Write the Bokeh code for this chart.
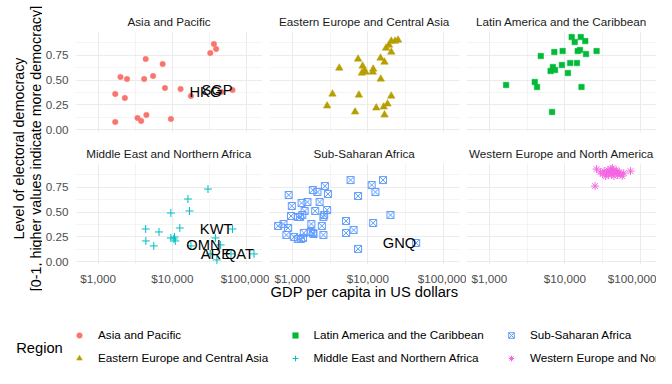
import math
from bokeh.plotting import figure
from bokeh.layouts import row, column
from bokeh.models import (Range1d, FixedTicker, NumeralTickFormatter, Label,
                          Legend, LegendItem, ColumnDataSource)
from bokeh.core.properties import value
from bokeh.embed import file_html
from bokeh.resources import INLINE

FONT = "Liberation Sans"

# ---------------- data ----------------
regions = ["Asia and Pacific", "Eastern Europe and Central Asia",
           "Latin America and the Caribbean", "Middle East and Northern Africa",
           "Sub-Saharan Africa", "Western Europe and North America"]

asia_gdp = [1700, 2000, 2450, 2290, 1700, 4370, 4170, 5500, 7400, 7950, 3390, 3800,
            4470, 9550, 12900, 17800, 32400, 36300, 38900, 45700, 64600]
asia_dem = [0.36, 0.53, 0.51, 0.32, 0.08, 0.71, 0.51, 0.54, 0.66, 0.42, 0.12, 0.09,
            0.15, 0.11, 0.41, 0.34, 0.77, 0.86, 0.81, 0.38, 0.40]
asia_code = [""] * 19 + ["HKG", "SGP"]

ee_gdp = [4170, 3390, 2880, 7400, 8510, 8910, 9330, 8320, 11750, 11600, 7590, 6760,
          14800, 14700, 16600, 17400, 19050, 20400, 22900, 25100, 20400, 20400,
          12900, 16200, 18200, 16600]
ee_dem = [0.62, 0.36, 0.24, 0.71, 0.64, 0.59, 0.58, 0.57, 0.61, 0.58, 0.35, 0.18,
          0.51, 0.72, 0.68, 0.82, 0.85, 0.89, 0.89, 0.90, 0.78, 0.34,
          0.22, 0.23, 0.26, 0.15]
ee_code = [""] * 26

la_gdp = [1660, 3980, 4270, 4790, 6760, 6460, 6920, 7410, 7240, 9330, 9120, 10960,
          11750, 14450, 12300, 13490, 16220, 18620, 14790, 15850, 19050, 26300, 16600]
la_dem = [0.45, 0.48, 0.43, 0.74, 0.18, 0.59, 0.63, 0.60, 0.78, 0.79, 0.65, 0.57,
          0.67, 0.67, 0.93, 0.88, 0.93, 0.89, 0.79, 0.80, 0.76, 0.79, 0.43]
la_code = [""] * 23

me_gdp = [4370, 6610, 4400, 5620, 9550, 16220, 17000, 30200, 12600, 9550, 10700,
          10960, 10470, 17800, 38000, 32400, 39800, 64600, 44700, 61700, 125900]
me_dem = [0.33, 0.30, 0.21, 0.16, 0.49, 0.63, 0.51, 0.73, 0.34, 0.24, 0.25,
          0.21, 0.23, 0.16, 0.24, 0.08, 0.02, 0.33, 0.17, 0.08, 0.08]
me_code = [""] * 17 + ["KWT", "OMN", "ARE", "QAT"]

ssa_gdp = [5890, 15850, 11220, 12590, 2690, 1860, 2140, 2950, 890, 7410, 980, 1320,
           1580, 2290, 1450, 2000, 2880, 2630, 2570, 1260, 1175, 955, 1350, 19950,
           5130, 11750, 1780, 2450, 760, 870, 5130, 6460, 830, 1050, 1175, 1290,
           1380, 1410, 1740, 1860, 2570, 7410, 645, 1900, 43650]
ssa_dem = [0.82, 0.82, 0.77, 0.70, 0.76, 0.72, 0.70, 0.68, 0.67, 0.66, 0.56, 0.59,
           0.60, 0.60, 0.51, 0.51, 0.52, 0.47, 0.45, 0.45, 0.45, 0.46, 0.47, 0.47,
           0.41, 0.39, 0.38, 0.36, 0.38, 0.34, 0.29, 0.32, 0.27, 0.25, 0.23, 0.23,
           0.24, 0.29, 0.30, 0.29, 0.27, 0.13, 0.36, 0.28, 0.19]
ssa_code = [""] * 44 + ["GNQ"]

we_gdp = [26300, 25100, 74100, 29500, 31600, 33100, 35500, 37200, 38000, 39800,
          40700, 41700, 43700, 44700, 45700, 47900, 50100, 52500, 55000, 57500,
          60300, 34700, 42700, 49000]
we_dem = [0.93, 0.76, 0.91, 0.90, 0.88, 0.91, 0.89, 0.92, 0.87, 0.90,
          0.93, 0.88, 0.91, 0.86, 0.89, 0.92, 0.87, 0.90, 0.88, 0.86,
          0.89, 0.86, 0.94, 0.90]
we_code = [""] * 24

x_ticks = [1000, 10000, 100000]
x_minor = [10 ** 2.5, 10 ** 3.5, 10 ** 4.5, 10 ** 5.5]
y_ticks = [0, 0.25, 0.5, 0.75]
y_minor = [0.125, 0.375, 0.625, 0.875]

colors = ["#F8766D", "#B79F00", "#00BA38", "#00BFC4", "#619CFF", "#F564E3"]
markers = ["circle", "triangle", "square", "cross", "square_x", "asterisk"]
sizes = [5.5, 7.5, 5.5, 8, 7, 8]
filled = [True, True, True, False, False, False]

gdp_all = [asia_gdp, ee_gdp, la_gdp, me_gdp, ssa_gdp, we_gdp]
dem_all = [asia_dem, ee_dem, la_dem, me_dem, ssa_dem, we_dem]
code_all = [asia_code, ee_code, la_code, me_code, ssa_code, we_code]

# shared scales (facet_wrap with fixed scales, 5% expansion)
all_g = [math.log10(g) for arr in gdp_all for g in arr]
all_d = [d for arr in dem_all for d in arr]
lx0, lx1 = min(all_g), max(all_g)
ex = 0.05 * (lx1 - lx0)
y0, y1 = min(all_d), max(all_d)
ey = 0.05 * (y1 - y0)

FW, FH = 190, 101
GAP = 7
YT_W = 42
ROW1_BOTTOM = 8
GRID = "#EBEBEB"


def style_common(p):
    p.outline_line_color = None
    for ax in (p.xaxis, p.yaxis):
        ax.major_tick_line_color = None
        ax.minor_tick_line_color = None
        ax.major_tick_out = 0
        ax.major_tick_in = 0
        ax.minor_tick_out = 0
        ax.minor_tick_in = 0
        ax.axis_line_color = None
        ax.major_label_text_font = FONT
        ax.major_label_text_font_size = "11.7px"
        ax.major_label_text_color = "#4D4D4D"
    p.xaxis.ticker = FixedTicker(ticks=x_ticks, minor_ticks=x_minor)
    p.yaxis.ticker = FixedTicker(ticks=y_ticks, minor_ticks=y_minor)
    p.xaxis.formatter = NumeralTickFormatter(format="$0,0")
    p.yaxis.formatter = NumeralTickFormatter(format="0.00")
    p.xaxis.major_label_standoff = 7
    p.yaxis.major_label_standoff = 7
    for g in (p.xgrid, p.ygrid):
        g.grid_line_color = GRID
        g.grid_line_width = 1.07
        g.minor_grid_line_color = GRID
        g.minor_grid_line_width = 0.53
    p.title.align = "center"
    p.title.text_font = FONT
    p.title.text_font_size = "11.7px"
    p.title.text_font_style = "normal"
    p.title.text_color = "#1A1A1A"
    p.title.standoff = 8


panels = []
for i, name in enumerate(regions):
    c, r = i % 3, i // 3
    left = (72 - YT_W) if c == 0 else 0
    right = 0 if c == 2 else GAP
    top = 31 if r == 0 else 31 - ROW1_BOTTOM
    bottom = ROW1_BOTTOM if r == 0 else 44
    p = figure(width=left + FW + right, height=top + FH + bottom,
               x_axis_type="log", title=name,
               x_range=Range1d(10 ** (lx0 - ex), 10 ** (lx1 + ex)),
               y_range=Range1d(y0 - ey, y1 + ey),
               output_backend="svg", toolbar_location=None,
               min_border_left=left, min_border_right=right,
               min_border_top=top, min_border_bottom=bottom)
    style_common(p)
    if r == 0:
        p.xaxis.visible = False
    if c != 0:
        p.yaxis.visible = False
    if i == 4:
        p.xaxis.axis_label = "GDP per capita in US dollars"
        p.xaxis.axis_label_text_font = FONT
        p.xaxis.axis_label_text_font_size = "14.7px"
        p.xaxis.axis_label_text_font_style = "normal"
        p.xaxis.axis_label_text_color = "black"
        p.xaxis.axis_label_standoff = -4

    src = ColumnDataSource(dict(gdp=gdp_all[i], dem=dem_all[i], code=code_all[i]))
    p.scatter("gdp", "dem", source=src, marker=markers[i], size=sizes[i],
              line_color=colors[i],
              fill_color=colors[i] if filled[i] else None,
              line_width=0.5 if filled[i] else 1.0)
    lab_idx = [k for k, cd in enumerate(code_all[i]) if cd]
    if lab_idx:
        lsrc = ColumnDataSource(dict(
            gdp=[gdp_all[i][k] for k in lab_idx],
            dem=[dem_all[i][k] for k in lab_idx],
            code=[code_all[i][k] for k in lab_idx]))
        p.text("gdp", "dem", text="code", source=lsrc, text_align="right",
               text_baseline="middle", text_font=value(FONT),
               text_font_size=value("14.7px"), text_color="black")
    panels.append(p)

ROWS_H = 31 + FH + 31 + FH + 44

# y-axis title (spans both rows)
yt = figure(width=YT_W, height=ROWS_H, min_border=0, x_axis_type=None,
            y_axis_type=None, x_range=Range1d(0, 1), y_range=Range1d(0, 1),
            output_backend="svg", toolbar_location=None)
yt.outline_line_color = None
for xx, txt in [(18.5, "Level of electoral democracy"),
                (35.0, "[0-1, higher values indicate more democracy]")]:
    yt.add_layout(Label(x=xx, y=ROWS_H - 148, x_units="screen", y_units="screen",
                        angle=math.pi / 2, text=txt, text_align="center",
                        text_baseline="alphabetic", text_font=FONT,
                        text_font_size="14.3px", text_color="black"))

# legend
LEG_H = 368 - ROWS_H
lf = figure(width=656, height=LEG_H, min_border=0, x_axis_type=None, y_axis_type=None,
            x_range=Range1d(0, 1), y_range=Range1d(0, 1),
            output_backend="svg", toolbar_location=None)
lf.outline_line_color = None
rends = []
for i in range(6):
    # one real point per region, outside this legend-only frame (never visible)
    rends.append(lf.scatter(x=[gdp_all[i][0]], y=[dem_all[i][0]], marker=markers[i],
                            line_color=colors[i],
                            fill_color=colors[i] if filled[i] else None,
                            line_width=0.5 if filled[i] else 1.0))
lf.add_layout(Label(x=15.7, y=LEG_H - 347.3 + ROWS_H, x_units="screen",
                    y_units="screen", text="Region",
                    text_baseline="middle", text_font=FONT, text_font_size="14.7px",
                    text_color="black"))
for col, xpos in enumerate([72, 287.5, 503.9]):
    items = [LegendItem(label=regions[k], renderers=[rends[k]])
             for k in (2 * col, 2 * col + 1)]
    leg = Legend(items=items, location=(xpos, 3.3), orientation="vertical",
                 glyph_width=14, glyph_height=14, label_height=14,
                 label_standoff=12, spacing=9, padding=0, margin=0,
                 border_line_color=None, background_fill_alpha=0,
                 label_text_font=FONT, label_text_font_size="11.7px",
                 label_text_color="black", label_text_baseline="middle")
    lf.add_layout(leg, "center")

grid = column(row(panels[0], panels[1], panels[2]),
              row(panels[3], panels[4], panels[5]))
layout = column(row(yt, grid), lf)

open("out.html", "w").write(file_html(layout, INLINE))
